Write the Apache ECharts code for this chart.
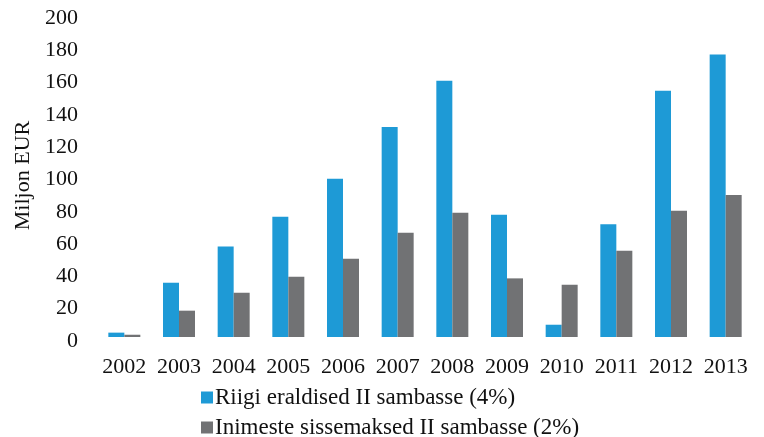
<!DOCTYPE html>
<html>
<head>
<meta charset="utf-8">
<script src="https://cdn.jsdelivr.net/npm/echarts@6/dist/echarts.min.js"></script>
<style>
  html, body { margin: 0; padding: 0; background: #fff; }
  #chart { width: 764px; height: 437px; }
</style>
</head>
<body>
<div id="chart"></div>
<script>
// andmed
const years = ['2002','2003','2004','2005','2006','2007','2008','2009','2010','2011','2012','2013']
const riigi = [2.7, 33.6, 56, 74.5, 98, 130, 158.7, 75.7, 7.6, 69.8, 152.5, 175]
const inimeste = [1.4, 16.3, 27.4, 37.3, 48.5, 64.6, 77, 36.3, 32.4, 53.4, 78.2, 88]
const seriesNames = ['Riigi eraldised II sambasse (4%)', 'Inimeste sissemaksed II sambasse (2%)']

const font = '"Liberation Serif", serif'
const legendText = { fontFamily: font, fontSize: 23, color: '#111', padding: [0, 0, 0, -3] }

const chart = echarts.init(document.getElementById('chart'))
chart.setOption({
  animation: false,
  color: ['#1E9AD6', '#717274'],
  grid: { left: 97, right: 11, top: 14, bottom: 100 },
  // kaks legendi, et read oleksid üksteise all
  legend: [
    {
      left: 196, top: 381, itemWidth: 12, itemHeight: 12, icon: 'rect',
      textStyle: legendText, data: [seriesNames[0]]
    },
    {
      left: 196, top: 411, itemWidth: 12, itemHeight: 12, icon: 'rect',
      textStyle: legendText, data: [seriesNames[1]]
    }
  ],
  xAxis: {
    type: 'category',
    data: years,
    axisLine: { show: false },
    axisTick: { show: false },
    axisLabel: { fontFamily: font, fontSize: 22, color: '#111', margin: 19, interval: 0 }
  },
  yAxis: {
    type: 'value',
    min: 0,
    max: 200,
    interval: 20,
    name: 'Miljon EUR',
    nameLocation: 'middle',
    nameGap: 63,
    nameTextStyle: { fontFamily: font, fontSize: 22, color: '#111' },
    splitLine: { show: false },
    axisLine: { show: false },
    axisTick: { show: false },
    axisLabel: {
      margin: 19,
      formatter: '{v|{value}}',
      rich: { v: { fontFamily: font, fontSize: 22, color: '#111', padding: [8, 0, 0, 0] } }
    }
  },
  series: [
    { name: seriesNames[0], type: 'bar', data: riigi, barWidth: 16, barGap: '0%' },
    { name: seriesNames[1], type: 'bar', data: inimeste, barWidth: 16, barGap: '0%' }
  ]
})
</script>
</body>
</html>
